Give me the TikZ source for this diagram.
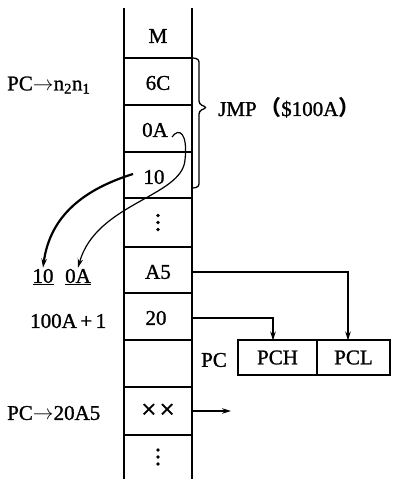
\documentclass[tikz,border=0pt]{standalone}
\usepackage{fontspec}
\setmainfont{Liberation Serif}[BoldFont=Liberation Serif,BoldFeatures={FakeBold=1.2}]
\newfontfamily\cjk{Noto Sans CJK SC}
\usetikzlibrary{arrows.meta}
\begin{document}
\begin{tikzpicture}[x=1pt,y=-1pt,
  every node/.style={font=\fontsize{21}{24}\selectfont\bfseries},
  cell/.style={minimum width=68pt,minimum height=46pt,inner sep=0pt},
  colline/.style={line width=2.8pt},
  rowline/.style={line width=2.2pt},
  conn/.style={line width=1.5pt},
  tip/.style={-{Stealth[length=9pt,width=5.5pt]}}]
\useasboundingbox (0,0) rectangle (393,479);
% column
\draw[colline] (124,8) -- (124,479);
\draw[colline] (192,8) -- (192,479);
\foreach \yy in {58,105,152,198,247,293,340,387,435}
  \draw[rowline] (124,\yy) -- (192,\yy);
\node[cell] (m)   at (158,36)   {M};
\node[cell] (c6c) at (158,83)   {6C};
\node[cell] (c0a) at (158,130)  {\hspace*{-6pt}0A};
\node[cell] (c10) at (158,177)  {\hspace*{-8pt}10};
\node[cell] (dots1) at (158,222.5){};
\node[cell] (ca5) at (158,272)  {A5};
\node[cell] (c20) at (158,318)  {\hspace*{-4pt}20};
\node[cell] (cem) at (158,363.5){};
\node[cell] (cxx) at (158,411)  {\fontsize{27}{28}\selectfont ×\hspace{3pt}×};
\node[cell] (dots2) at (158,457){};
\foreach \c in {dots1,dots2}
  \foreach \d in {-7,0,7}
    \fill ([yshift=\d pt]\c.center) circle (1.8pt);
% left labels
\node[anchor=west,inner sep=0pt] (pc1) at (7,85) {PC$\rightarrow$n\textsubscript{2}n\textsubscript{1}};
\node[inner sep=1pt] (l10) at (43,277) {\underline{10}};
\node[inner sep=1pt] (l0a) at (78,277) {\underline{0A}};
\node[anchor=west,inner sep=0pt] (l100) at (30,321) {100A\,+\,1};
\node[anchor=west,inner sep=0pt] (pc2) at (7,413) {PC$\rightarrow$20A5};
% brace
\draw[line width=1.3pt,rounded corners=3pt] (193,58) -- (199,59) -- (199,104) -- (207,107.5) -- (199,111) -- (199,187) -- (193,188);
\node[anchor=west,inner sep=0pt] (jmp) at (218,108) {JMP\,{\cjk（}\$100A{\cjk）}};
% PC register
\node[inner sep=0pt] (pclab) at (214,360) {PC};
\node[draw,line width=1.4pt,minimum width=79pt,minimum height=35pt,inner sep=0pt] (pch) at (277.5,357.5) {PCH};
\node[draw,line width=1.4pt,minimum width=73pt,minimum height=35pt,inner sep=0pt] (pcl) at (353.5,357.5) {PCL};
% connectors
\draw[conn,tip] (ca5.east) -| (348,340.5);
\draw[conn,tip] (c20.east) -| (273,340.5);
\coordinate (xxend) at (231,411);
\draw[conn,tip] (cxx.east) -- (xxend);
% curved arrows
\draw[line width=1.2pt,tip] (172,137) .. controls (179,127) and (188,133) .. (185,160)
   .. controls (182,197) and (96,203) .. (l0a.north);
\draw[line width=2.2pt,tip] (133,174) .. controls (85,189) and (50,215) .. (l10.north);
\end{tikzpicture}
\end{document}
